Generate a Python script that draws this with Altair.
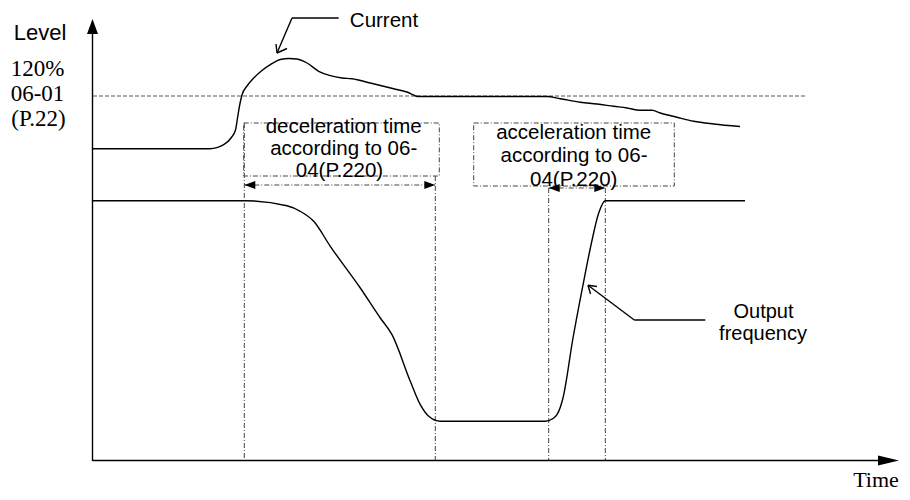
import altair as alt
import pandas as pd

# ---------------- data (reference pixel coordinates, y grows downward) ----------------
# Current curve
current_x = [96, 213, 226.7, 234, 238.5, 240.5, 242.5, 245, 250, 256.7, 265, 273.3, 283.3, 292,
             300, 310, 321.7, 333.3, 345, 355, 373.3, 396.7, 410, 421.7, 430, 550, 563.3, 583.3,
             600, 616.7, 630, 643, 655, 663.3, 680, 696.7, 716.7, 743]
current_y = [150.7, 150.7, 146.7, 140, 132, 120, 108, 97, 88, 80, 72.5, 66.7, 61.5, 60.5,
             61, 65, 73.3, 77.7, 80, 80.7, 85, 90.7, 94, 98.5, 98.5, 98.5, 100.7, 104.3,
             106, 108.3, 110, 112.3, 112.3, 115, 119.3, 123.3, 126, 128.5]

# Output frequency curve
freq_x = [96, 247.3, 290, 303.3, 316.7, 333.3, 363.3, 383.3, 395, 413.3, 423.3, 431.7, 443.3,
          548.3, 556, 560, 566, 576, 586.7, 594, 601.7, 608.3, 748]
freq_y = [202.7, 202.7, 207.7, 213.3, 223.3, 248.3, 290, 320, 336.7, 383.3, 406.7, 418.3, 423.3,
          423.3, 420.5, 416.7, 400, 340, 283.3, 247, 215, 202.7, 202.7]

# solid segments: axes and leader lines
solid_x1 = [95.5, 95.5, 295, 295, 280, 280, 637.3, 637.3, 591, 591]
solid_y1 = [463, 462.5, 20, 20, 55, 55, 322, 322, 287.3, 287.3]
solid_x2 = [95.5, 884, 341.7, 280, 279, 290, 708.3, 591, 593.5, 600]
solid_y2 = [34, 462.5, 20, 55, 46, 50.5, 322, 287.3, 296, 288.5]

# dash-dot segments: guide verticals and time-span arrows
dd_x1 = [247.3, 438.3, 551.7, 608.3, 247.3, 551.7]
dd_y1 = [125, 178, 190, 190, 187, 190]
dd_x2 = [247.3, 438.3, 551.7, 608.3, 438.3, 608.3]
dd_y2 = [463, 463, 463, 463, 187, 190]

# dashed 120% level line
dash_x1, dash_y1, dash_x2, dash_y2 = [96], [98], [810], [98]

# dash-dot text boxes
box_x1 = [246.7, 476.7]
box_y1 = [125, 125]
box_x2 = [442.3, 677.3]
box_y2 = [178, 188]

# arrowheads
up_x, up_y = [95.5], [28.5]
right_x, right_y = [891.5, 432.8, 602.8], [462.5, 187, 190]
left_x, left_y = [252.8, 557.2], [187, 190]

# labels
sans_text = ["Level", "Current", "deceleration time", "according to 06-", "04(P.220)",
             "acceleration time", "according to 06-", "04(P.220)", "Output", "frequency"]
sans_x = [43, 387, 346.7, 346.7, 342.5, 576.7, 577, 576.7, 766.5, 766]
sans_y = [41.7, 28.5, 135, 157, 178.5, 140.5, 163.5, 187.5, 319.5, 342]
sans_fs = [22, 20.5, 20.5, 20.5, 20.5, 20.5, 20.5, 20.5, 20, 20]

serif_text = ["120%", "06-01", "(P.22)", "Time"]
serif_x = [40.5, 40.5, 41.5, 879]
serif_y = [78.3, 103.3, 128, 489]
serif_fs = [23, 23, 23, 22]

X_DOMAIN = [11, 905]
Y_DOMAIN = [10, 494]

# ---------------- chart ----------------
xs = alt.Scale(domain=X_DOMAIN, nice=False, zero=False)
ys = alt.Scale(domain=Y_DOMAIN, nice=False, zero=False, reverse=True)

def seg_df(x1, y1, x2, y2):
    return pd.DataFrame({"x": x1, "y": y1, "x2": x2, "y2": y2})

def curve_df(xv, yv):
    return pd.DataFrame({"x": xv, "y": yv, "o": list(range(len(xv)))})

def rules(df, **kw):
    return alt.Chart(df).mark_rule(**kw).encode(
        x=alt.X("x:Q", scale=xs, axis=None),
        y=alt.Y("y:Q", scale=ys, axis=None),
        x2="x2:Q", y2="y2:Q")

def curve(df):
    return alt.Chart(df).mark_line(color="black", strokeWidth=1.4, interpolate="monotone").encode(
        x=alt.X("x:Q", scale=xs, axis=None),
        y=alt.Y("y:Q", scale=ys, axis=None),
        order="o:Q")

def heads(xv, yv, shape, size):
    df = pd.DataFrame({"x": xv, "y": yv})
    return alt.Chart(df).mark_point(shape=shape, size=size, filled=True, color="black",
                                    opacity=1, strokeWidth=0).encode(
        x=alt.X("x:Q", scale=xs, axis=None),
        y=alt.Y("y:Q", scale=ys, axis=None))

def texts(txt, xv, yv, fs, font):
    df = pd.DataFrame({"t": txt, "x": xv, "y": yv, "fs": fs})
    return alt.Chart(df).mark_text(font=font, align="center", baseline="alphabetic",
                                   color="black").encode(
        x=alt.X("x:Q", scale=xs, axis=None),
        y=alt.Y("y:Q", scale=ys, axis=None),
        size=alt.Size("fs:Q", scale=None, legend=None),
        text="t:N")

DASHDOT = [5, 2, 1, 2]

boxes = alt.Chart(pd.DataFrame({"x": box_x1, "y": box_y1, "x2": box_x2, "y2": box_y2})).mark_rect(
    fill="white", fillOpacity=0, stroke="#444", strokeWidth=1, strokeDash=DASHDOT).encode(
    x=alt.X("x:Q", scale=xs, axis=None),
    y=alt.Y("y:Q", scale=ys, axis=None),
    x2="x2:Q", y2="y2:Q")

chart = alt.layer(
    rules(seg_df(dash_x1, dash_y1, dash_x2, dash_y2), color="#555", strokeWidth=1, strokeDash=[4, 2]),
    rules(seg_df(dd_x1, dd_y1, dd_x2, dd_y2), color="#444", strokeWidth=1, strokeDash=DASHDOT),
    boxes,
    curve(curve_df(current_x, current_y)),
    curve(curve_df(freq_x, freq_y)),
    rules(seg_df(solid_x1, solid_y1, solid_x2, solid_y2), color="black", strokeWidth=1.4),
    heads(up_x, up_y, "M0,-1L0.733,1L-0.733,1Z", 225),
    heads(right_x[:1], right_y[:1], "M1,0L-1,-0.476L-1,0.476Z", 441),
    heads(right_x[1:], right_y[1:], "M1,0L-1,-0.727L-1,0.727Z", 121),
    heads(left_x, left_y, "M-1,0L1,-0.727L1,0.727Z", 121),
    texts(sans_text, sans_x, sans_y, sans_fs, "Liberation Sans"),
    texts(serif_text, serif_x, serif_y, serif_fs, "Liberation Serif"),
).properties(
    width=894, height=484,
    autosize=alt.AutoSizeParams(type="none"),
    padding=0,
).configure_view(stroke=None)

chart.save("out.html", embed_options={"renderer": "svg", "actions": False})
